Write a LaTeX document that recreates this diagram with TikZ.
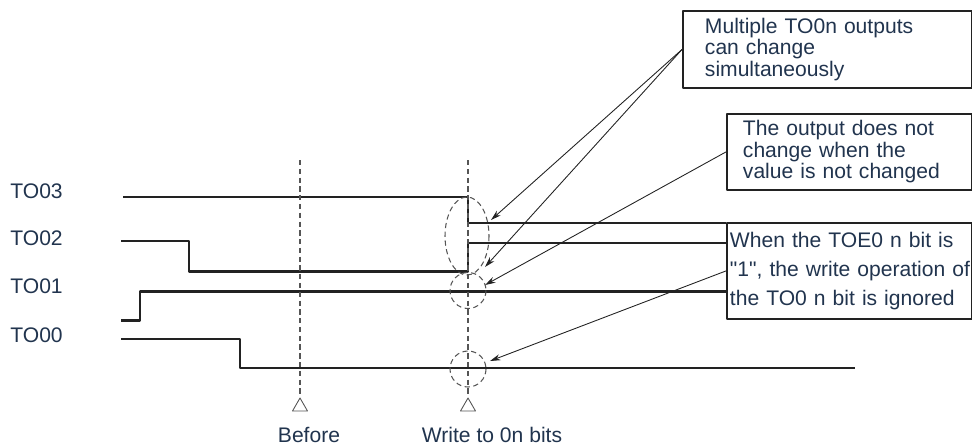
\documentclass[tikz,border=0pt]{standalone}
\usepackage{fontspec}
\setmainfont{Liberation Sans}
\usepackage{tikz}
\usetikzlibrary{arrows.meta}
\definecolor{labelnavy}{RGB}{33,52,78}
\definecolor{wavegray}{RGB}{34,34,34}
\definecolor{guidegray}{RGB}{85,85,85}

\begin{document}
\begin{tikzpicture}[x=0.02cm,y=-0.02cm,line join=round,
  wave/.style={line width=1.2pt,wavegray},
  guide/.style={guidegray,line width=0.6pt,dash pattern=on 3pt off 2pt},
  pointer/.style={-{Stealth[length=6pt,width=3.5pt]},line width=0.5pt,wavegray},
  sig/.style={labelnavy,font=\fontsize{12}{13}\selectfont,inner sep=0pt},
  callout/.style={draw=wavegray,line width=1.1pt,text=labelnavy,anchor=north west,align=left,inner ysep=0pt}]
\useasboundingbox (0,0) rectangle (972,447);
% signal names
\node[sig,anchor=west] (n3) at (10,191) {TO03};
\node[sig,anchor=west] (n2) at (10,238) {TO02};
\node[sig,anchor=west] (n1) at (10,286) {TO01};
\node[sig,anchor=west] (n0) at (10,335) {TO00};
% notes
\node[callout,minimum width=5.78cm,minimum height=1.54cm,inner xsep=0.44cm,text width=4.9cm,
  font=\fontsize{12}{9.6}\selectfont] (multi) at (682,10)
  {Multiple TO0n outputs\\can change\\simultaneously};
\node[callout,minimum width=4.9cm,minimum height=1.53cm,inner xsep=0.32cm,text width=4.26cm,
  font=\fontsize{12}{9.5}\selectfont] (same) at (726,112.7)
  {The output does not\\change when the\\value is not changed};
\node[callout,minimum width=4.9cm,minimum height=1.93cm,inner xsep=0.06cm,text width=4.78cm,
  font=\fontsize{12}{16.4}\selectfont] (ignored) at (726,221.7)
  {When the TOE0 n bit is\\\mbox{\textquotedbl1\textquotedbl, the write operation of}\\the TO0 n bit is ignored};
% waveforms
\draw[wave] (123,197) -- (468,197) -- (468,223) -- (726,223);
\draw[wave] (121,241) -- (189,241) -- (189,271.5) -- (468,271.5) -- (468,243) -- (726,243);
\draw[wave] (121,320.5) -- (140,320.5) -- (140,291.5) -- (726,291.5);
\draw[wave] (121,339) -- (240,339) -- (240,368) -- (855,368);
% timing marks
\foreach \tx in {300,468} {
  \draw[guide] (\tx,160) -- (\tx,396);
  \draw[guidegray,line width=0.5pt] (\tx,398) -- (\tx+7.5,411) -- (\tx-7.5,411) -- cycle;
}
\node[sig] (before) at (309,435) {Before};
\node[sig] (write) at (492,435) {Write to 0n bits};
% dashed rings
\draw[guide] (467,236) ellipse (22 and 39);
\draw[guide] (468,290.5) circle (18);
\draw[guide] (468,369) circle (18);
% pointers
\coordinate (t3) at (491,220);
\coordinate (t2) at (485,267);
\coordinate (t1) at (485,285);
\coordinate (t0) at (490,361);
\draw[pointer] (multi.west) -- (t3);
\draw[pointer] (multi.west) -- (t2);
\draw[pointer] (same.west) -- (t1);
\draw[pointer] (ignored.west) -- (t0);
\end{tikzpicture}
\end{document}
